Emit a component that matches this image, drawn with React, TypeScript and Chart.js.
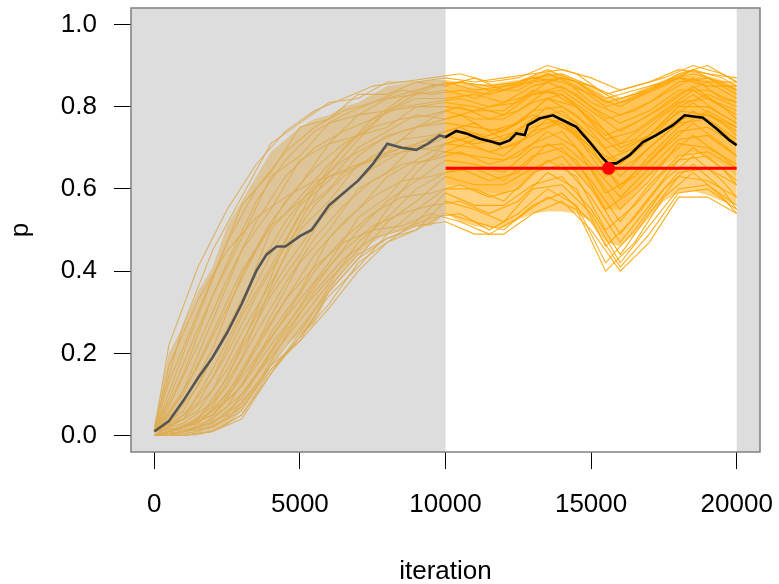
import { useEffect, useRef } from "react";
import { Chart, registerables } from "chart.js";

Chart.register(...registerables);

// ---------- data ----------
const xRange = [-800, 20800];
const yRange = [-0.04, 1.04];
const xTickValues = [0, 5000, 10000, 15000, 20000];
const xTickLabels = ["0", "5000", "10000", "15000", "20000"];
const yTickValues = [0, 0.2, 0.4, 0.6, 0.8, 1.0];
const yTickLabels = ["0.0", "0.2", "0.4", "0.6", "0.8", "1.0"];
const xTitle = "iteration";
const yTitle = "p";

// shaded (burn-in / margin) regions on the iteration axis
const shadeRegions = [
  [-800, 10000],
  [20000, 20800],
];

// reference level (red) and marker
const refLine = { x0: 10000, x1: 20000, p: 0.65 };
const markerIter = 15600;
const markerP = 0.65;

const iters500 = [
  0, 500, 1000, 1500, 2000, 2500, 3000, 3500, 4000, 4500, 5000, 5500, 6000, 6500, 7000, 7500,
  8000, 8500, 9000, 9500, 10000, 10500, 11000, 11500, 12000, 12500, 13000, 13500, 14000, 14500,
  15000, 15500, 16000, 16500, 17000, 17500, 18000, 18500, 19000, 19500, 20000,
];
const itersPost = [
  10000, 10500, 11000, 11500, 12000, 12500, 13000, 13500, 14000, 14500, 15000, 15500, 16000,
  16500, 17000, 17500, 18000, 18500, 19000, 19500, 20000,
];
const itersA = [
  0, 1000, 2000, 3000, 4000, 5000, 6000, 7000, 8000, 9000, 10000, 11000, 12000, 13000, 14000,
  15000, 16000, 17000, 18000, 19000, 20000,
];
const itersB = [
  0, 500, 1500, 2500, 3500, 4500, 5500, 6500, 7500, 8500, 9500, 10500, 11500, 12500, 13500,
  14500, 15500, 16500, 17500, 18500, 19500, 20000,
];

// highlighted chain (black)
const blackIters = [
  0, 500, 1000, 1500, 2000, 2500, 3000, 3500, 3850, 4200, 4500, 5000, 5400, 6000, 6500, 7000,
  7500, 8000, 8500, 9000, 9400, 9800, 10000, 10370, 10710, 11170, 11630, 11860, 12200, 12430,
  12720, 12830, 13230, 13690, 14030, 14490, 14950, 15410, 15580, 15870, 16320, 16780, 17240,
  17810, 18210, 18840, 19300, 19760, 20000,
];
const blackChain = [
  0.01, 0.035, 0.085, 0.14, 0.19, 0.25, 0.32, 0.4, 0.44, 0.46, 0.46, 0.485, 0.5, 0.56, 0.59, 0.62,
  0.66, 0.71, 0.7, 0.695, 0.71, 0.73, 0.726, 0.741, 0.735, 0.722, 0.714, 0.709, 0.718, 0.735,
  0.731, 0.755, 0.771, 0.779, 0.767, 0.751, 0.714, 0.674, 0.662, 0.662, 0.682, 0.714, 0.731,
  0.755, 0.779, 0.773, 0.747, 0.718, 0.706,
];

// extent of the chain cloud (upper / lower edges)
const cloudUpper = [
  0.03, 0.2, 0.27, 0.35, 0.41, 0.51, 0.57, 0.63, 0.69, 0.72, 0.75, 0.77, 0.78, 0.8, 0.81, 0.83,
  0.85, 0.855, 0.86, 0.865, 0.865, 0.86, 0.855, 0.855, 0.86, 0.865, 0.875, 0.885, 0.88, 0.865,
  0.85, 0.825, 0.82, 0.835, 0.85, 0.865, 0.88, 0.885, 0.875, 0.865, 0.855,
];
const cloudLower = [
  0.0, 0.0, 0.0, 0.0, 0.01, 0.025, 0.06, 0.11, 0.17, 0.22, 0.245, 0.27, 0.35, 0.4, 0.44, 0.47,
  0.49, 0.5, 0.51, 0.51, 0.54, 0.52, 0.51, 0.505, 0.505, 0.525, 0.54, 0.545, 0.545, 0.54, 0.52,
  0.47, 0.46, 0.49, 0.53, 0.57, 0.59, 0.595, 0.585, 0.57, 0.56,
];
// densest part of the cloud after iteration 10000
const coreUpper = [
  0.85, 0.85, 0.845, 0.845, 0.85, 0.855, 0.865, 0.875, 0.87, 0.855, 0.84, 0.815, 0.81, 0.825,
  0.84, 0.855, 0.87, 0.875, 0.865, 0.855, 0.845,
];
const coreLower = [
  0.61, 0.61, 0.6, 0.59, 0.59, 0.61, 0.64, 0.66, 0.66, 0.64, 0.6, 0.55, 0.55, 0.59, 0.63, 0.66,
  0.68, 0.69, 0.68, 0.66, 0.63,
];

// individual chains, sampled on grid A (every 1000 iterations)
const chainA01 = [0.02, 0.27, 0.45, 0.58, 0.71, 0.76, 0.81, 0.82, 0.86, 0.86, 0.87, 0.86, 0.87, 0.88, 0.89, 0.87, 0.84, 0.86, 0.89, 0.88, 0.87];
const chainA02 = [0.01, 0.2, 0.38, 0.56, 0.64, 0.75, 0.77, 0.83, 0.83, 0.86, 0.85, 0.87, 0.84, 0.87, 0.88, 0.85, 0.82, 0.84, 0.88, 0.9, 0.86];
const chainA03 = [0.01, 0.15, 0.34, 0.48, 0.63, 0.68, 0.76, 0.78, 0.82, 0.83, 0.84, 0.82, 0.85, 0.87, 0.86, 0.83, 0.8, 0.84, 0.87, 0.85, 0.85];
const chainA04 = [0.01, 0.11, 0.28, 0.45, 0.55, 0.67, 0.71, 0.78, 0.79, 0.82, 0.82, 0.83, 0.81, 0.85, 0.87, 0.81, 0.78, 0.81, 0.86, 0.87, 0.84];
const chainA05 = [0.01, 0.08, 0.21, 0.39, 0.52, 0.61, 0.71, 0.73, 0.79, 0.8, 0.8, 0.79, 0.81, 0.83, 0.85, 0.8, 0.76, 0.79, 0.84, 0.84, 0.81];
const chainA06 = [0.01, 0.06, 0.19, 0.32, 0.5, 0.58, 0.66, 0.73, 0.75, 0.8, 0.81, 0.8, 0.78, 0.83, 0.84, 0.79, 0.74, 0.78, 0.83, 0.86, 0.82];
const chainA07 = [0.01, 0.05, 0.14, 0.29, 0.41, 0.54, 0.6, 0.68, 0.73, 0.75, 0.79, 0.77, 0.77, 0.81, 0.83, 0.77, 0.71, 0.76, 0.81, 0.82, 0.79];
const chainA08 = [0.01, 0.04, 0.11, 0.25, 0.37, 0.5, 0.57, 0.66, 0.69, 0.75, 0.76, 0.75, 0.74, 0.79, 0.8, 0.75, 0.69, 0.73, 0.8, 0.8, 0.76];
const chainA09 = [0.01, 0.03, 0.08, 0.21, 0.34, 0.44, 0.56, 0.62, 0.69, 0.71, 0.74, 0.76, 0.72, 0.77, 0.79, 0.73, 0.66, 0.72, 0.77, 0.78, 0.74];
const chainA10 = [0.01, 0.02, 0.06, 0.15, 0.29, 0.42, 0.5, 0.6, 0.64, 0.71, 0.73, 0.71, 0.72, 0.75, 0.77, 0.71, 0.63, 0.7, 0.76, 0.77, 0.72];
const chainA11 = [0.01, 0.02, 0.05, 0.12, 0.25, 0.35, 0.48, 0.55, 0.63, 0.67, 0.71, 0.7, 0.68, 0.74, 0.76, 0.69, 0.61, 0.67, 0.74, 0.75, 0.71];
const chainA12 = [0.0, 0.02, 0.05, 0.14, 0.24, 0.33, 0.42, 0.53, 0.58, 0.66, 0.69, 0.68, 0.67, 0.71, 0.74, 0.66, 0.58, 0.65, 0.72, 0.73, 0.68];
const chainA13 = [0.0, 0.02, 0.05, 0.12, 0.22, 0.31, 0.41, 0.5, 0.57, 0.62, 0.67, 0.66, 0.64, 0.7, 0.71, 0.65, 0.55, 0.62, 0.71, 0.7, 0.66];
const chainA14 = [0.0, 0.01, 0.04, 0.1, 0.19, 0.28, 0.37, 0.47, 0.53, 0.6, 0.64, 0.65, 0.62, 0.68, 0.7, 0.62, 0.52, 0.61, 0.68, 0.69, 0.65];
const chainA15 = [0.0, 0.01, 0.03, 0.08, 0.17, 0.26, 0.35, 0.43, 0.52, 0.57, 0.63, 0.61, 0.61, 0.65, 0.68, 0.6, 0.49, 0.58, 0.67, 0.68, 0.62];
const chainA16 = [0.0, 0.01, 0.02, 0.07, 0.16, 0.24, 0.34, 0.41, 0.49, 0.55, 0.6, 0.6, 0.57, 0.64, 0.66, 0.58, 0.47, 0.56, 0.64, 0.65, 0.61];
const chainA17 = [0.0, 0.01, 0.02, 0.06, 0.17, 0.23, 0.31, 0.4, 0.47, 0.52, 0.59, 0.56, 0.56, 0.61, 0.63, 0.55, 0.44, 0.54, 0.63, 0.62, 0.58];
const chainA18 = [0.0, 0.0, 0.01, 0.05, 0.15, 0.24, 0.32, 0.42, 0.47, 0.5, 0.57, 0.55, 0.52, 0.6, 0.61, 0.54, 0.42, 0.51, 0.6, 0.61, 0.56];
const chainA19 = [0.0, 0.0, 0.01, 0.05, 0.16, 0.23, 0.35, 0.43, 0.48, 0.5, 0.54, 0.52, 0.5, 0.56, 0.59, 0.52, 0.41, 0.49, 0.59, 0.6, 0.55];
const chainA20 = [0.0, 0.0, 0.01, 0.04, 0.15, 0.25, 0.36, 0.44, 0.48, 0.51, 0.52, 0.49, 0.49, 0.54, 0.57, 0.5, 0.4, 0.47, 0.58, 0.58, 0.54];
const chainA21 = [0.01, 0.1, 0.25, 0.4, 0.51, 0.57, 0.63, 0.66, 0.68, 0.7, 0.69, 0.72, 0.74, 0.78, 0.76, 0.7, 0.66, 0.72, 0.79, 0.78, 0.75];
const chainA22 = [0.0, 0.02, 0.07, 0.19, 0.36, 0.52, 0.64, 0.72, 0.79, 0.83, 0.86, 0.84, 0.85, 0.86, 0.87, 0.85, 0.81, 0.84, 0.87, 0.86, 0.86];
const chainA23 = [0.0, 0.01, 0.03, 0.09, 0.2, 0.3, 0.38, 0.45, 0.55, 0.64, 0.71, 0.73, 0.7, 0.73, 0.77, 0.7, 0.6, 0.68, 0.75, 0.79, 0.75];
const chainA24 = [0.01, 0.04, 0.16, 0.3, 0.44, 0.56, 0.62, 0.7, 0.74, 0.78, 0.77, 0.79, 0.79, 0.84, 0.83, 0.78, 0.7, 0.73, 0.8, 0.83, 0.8];

// individual chains, sampled on grid B (offset by 500 iterations)
const chainB01 = [0.01, 0.22, 0.41, 0.55, 0.66, 0.74, 0.79, 0.82, 0.85, 0.86, 0.87, 0.88, 0.86, 0.87, 0.9, 0.88, 0.83, 0.85, 0.87, 0.9, 0.88, 0.86];
const chainB02 = [0.01, 0.13, 0.3, 0.47, 0.6, 0.69, 0.75, 0.79, 0.81, 0.84, 0.83, 0.84, 0.83, 0.85, 0.88, 0.85, 0.8, 0.82, 0.85, 0.89, 0.85, 0.83];
const chainB03 = [0.01, 0.07, 0.22, 0.38, 0.52, 0.63, 0.7, 0.74, 0.77, 0.8, 0.81, 0.82, 0.8, 0.81, 0.86, 0.83, 0.77, 0.79, 0.83, 0.87, 0.82, 0.81];
const chainB04 = [0.01, 0.05, 0.17, 0.31, 0.45, 0.57, 0.65, 0.71, 0.75, 0.77, 0.78, 0.8, 0.77, 0.79, 0.84, 0.8, 0.73, 0.76, 0.8, 0.85, 0.8, 0.78];
const chainB05 = [0.01, 0.03, 0.12, 0.26, 0.4, 0.52, 0.61, 0.67, 0.71, 0.74, 0.76, 0.78, 0.74, 0.76, 0.82, 0.78, 0.7, 0.72, 0.78, 0.83, 0.78, 0.76];
const chainB06 = [0.0, 0.02, 0.08, 0.2, 0.34, 0.46, 0.56, 0.63, 0.68, 0.72, 0.73, 0.75, 0.72, 0.74, 0.8, 0.76, 0.67, 0.7, 0.76, 0.81, 0.76, 0.73];
const chainB07 = [0.0, 0.02, 0.06, 0.16, 0.29, 0.41, 0.51, 0.59, 0.65, 0.69, 0.7, 0.72, 0.69, 0.71, 0.77, 0.73, 0.63, 0.67, 0.73, 0.79, 0.74, 0.71];
const chainB08 = [0.0, 0.01, 0.04, 0.12, 0.25, 0.37, 0.48, 0.56, 0.62, 0.66, 0.67, 0.69, 0.66, 0.68, 0.74, 0.7, 0.59, 0.63, 0.7, 0.76, 0.71, 0.68];
const chainB09 = [0.0, 0.01, 0.03, 0.09, 0.21, 0.33, 0.44, 0.52, 0.58, 0.62, 0.63, 0.65, 0.62, 0.64, 0.71, 0.67, 0.55, 0.6, 0.67, 0.73, 0.68, 0.65];
const chainB10 = [0.0, 0.01, 0.02, 0.07, 0.18, 0.29, 0.4, 0.48, 0.54, 0.58, 0.59, 0.61, 0.58, 0.6, 0.67, 0.63, 0.5, 0.56, 0.64, 0.7, 0.65, 0.61];
const chainB11 = [0.0, 0.0, 0.02, 0.05, 0.15, 0.26, 0.37, 0.45, 0.51, 0.54, 0.56, 0.57, 0.54, 0.57, 0.64, 0.6, 0.46, 0.53, 0.62, 0.68, 0.62, 0.58];
const chainB12 = [0.0, 0.0, 0.01, 0.04, 0.12, 0.24, 0.35, 0.43, 0.48, 0.5, 0.53, 0.54, 0.5, 0.54, 0.6, 0.56, 0.42, 0.5, 0.6, 0.66, 0.6, 0.55];
const chainB13 = [0.01, 0.17, 0.33, 0.45, 0.53, 0.58, 0.62, 0.64, 0.67, 0.7, 0.71, 0.74, 0.73, 0.76, 0.82, 0.8, 0.72, 0.74, 0.79, 0.84, 0.8, 0.77];
const chainB14 = [0.0, 0.01, 0.04, 0.14, 0.3, 0.47, 0.6, 0.7, 0.77, 0.82, 0.85, 0.86, 0.85, 0.86, 0.89, 0.86, 0.82, 0.84, 0.86, 0.89, 0.87, 0.85];
const chainB15 = [0.01, 0.09, 0.26, 0.42, 0.57, 0.67, 0.74, 0.78, 0.81, 0.83, 0.85, 0.86, 0.84, 0.84, 0.88, 0.86, 0.81, 0.83, 0.86, 0.88, 0.86, 0.84];
const chainB16 = [0.0, 0.01, 0.03, 0.1, 0.22, 0.33, 0.41, 0.47, 0.5, 0.51, 0.54, 0.52, 0.49, 0.53, 0.58, 0.55, 0.4, 0.47, 0.58, 0.64, 0.58, 0.54];

const chainsA = [
  chainA01, chainA02, chainA03, chainA04, chainA05, chainA06, chainA07, chainA08, chainA09, chainA10, chainA11, chainA12,
  chainA13, chainA14, chainA15, chainA16, chainA17, chainA18, chainA19, chainA20, chainA21, chainA22, chainA23, chainA24,
];
const chainsB = [
  chainB01, chainB02, chainB03, chainB04, chainB05, chainB06, chainB07, chainB08,
  chainB09, chainB10, chainB11, chainB12, chainB13, chainB14, chainB15, chainB16,
];

// ---------- styling ----------
const FONT = "'Liberation Sans', Arial, Helvetica, sans-serif";
const ORANGE_LINE = "rgba(255,165,0,0.9)";
const ORANGE_FILL = "rgba(255,165,0,0.5)";
const ORANGE_CORE = "rgba(255,165,0,0.32)";
const SHADE = "rgba(182,182,182,0.467)";

const pts = (xs: number[], ys: number[]) => xs.map((x, i) => ({ x, y: ys[i] }));

const shadePlugin = {
  id: "shadeRegions",
  afterDatasetsDraw(chart: any) {
    const { ctx, chartArea, scales } = chart;
    const xs = scales.x;
    ctx.save();
    ctx.fillStyle = SHADE;
    for (const [a, b] of shadeRegions) {
      const x0 = Math.max(chartArea.left, xs.getPixelForValue(a));
      const x1 = Math.min(chartArea.right, xs.getPixelForValue(b));
      ctx.fillRect(x0, chartArea.top, x1 - x0, chartArea.bottom - chartArea.top);
    }
    ctx.restore();
  },
};

const boxPlugin = {
  id: "plotBox",
  afterDraw(chart: any) {
    const { ctx, chartArea } = chart;
    ctx.save();
    ctx.strokeStyle = "#808080";
    ctx.lineWidth = 1.5;
    ctx.strokeRect(chartArea.left, chartArea.top, chartArea.right - chartArea.left, chartArea.bottom - chartArea.top);
    ctx.restore();
  },
};

const zeroPad = (axis: any) => {
  axis.paddingTop = 0;
  axis.paddingBottom = 0;
  axis.paddingLeft = 0;
  axis.paddingRight = 0;
};

export default function App() {
  const ref = useRef<HTMLCanvasElement | null>(null);

  useEffect(() => {
    if (!ref.current) return;

    const datasets: any[] = [];
    datasets.push({
      type: "scatter",
      data: [{ x: markerIter, y: markerP }],
      backgroundColor: "#ff0000",
      borderColor: "#ff0000",
      pointRadius: 6.5,
      borderWidth: 0,
    });
    datasets.push({
      data: pts([refLine.x0, refLine.x1], [refLine.p, refLine.p]),
      borderColor: "#ff0000",
      borderWidth: 3,
      pointRadius: 0,
      fill: false,
    });
    datasets.push({
      data: pts(blackIters, blackChain),
      borderColor: "#000000",
      borderWidth: 2.6,
      pointRadius: 0,
      fill: false,
    });
    for (const c of chainsA) {
      datasets.push({ data: pts(itersA, c), borderColor: ORANGE_LINE, borderWidth: 1.1, pointRadius: 0, fill: false });
    }
    for (const c of chainsB) {
      datasets.push({ data: pts(itersB, c), borderColor: ORANGE_LINE, borderWidth: 1.1, pointRadius: 0, fill: false });
    }
    datasets.push({
      data: pts(itersPost, coreUpper),
      borderColor: "rgba(0,0,0,0)",
      borderWidth: 0,
      pointRadius: 0,
      backgroundColor: ORANGE_CORE,
      fill: "+1",
    });
    datasets.push({
      data: pts(itersPost, coreLower),
      borderColor: "rgba(0,0,0,0)",
      borderWidth: 0,
      pointRadius: 0,
      fill: false,
    });
    datasets.push({
      data: pts(iters500, cloudUpper),
      borderColor: "rgba(0,0,0,0)",
      borderWidth: 0,
      pointRadius: 0,
      backgroundColor: ORANGE_FILL,
      fill: "+1",
    });
    datasets.push({
      data: pts(iters500, cloudLower),
      borderColor: "rgba(0,0,0,0)",
      borderWidth: 0,
      pointRadius: 0,
      fill: false,
    });

    const chart = new Chart(ref.current, {
      type: "line",
      data: { datasets },
      options: {
        animation: false,
        responsive: false,
        devicePixelRatio: 1,
        layout: { padding: { top: 8, right: 19, left: 0, bottom: 0 } },
        plugins: { legend: { display: false }, tooltip: { enabled: false } },
        elements: { line: { tension: 0 }, point: { radius: 0 } },
        scales: {
          x: {
            type: "linear",
            min: xRange[0],
            max: xRange[1],
            afterBuildTicks: (axis: any) => {
              axis.ticks = xTickValues.map((v) => ({ value: v }));
            },
            afterFit: (axis: any) => {
              axis.height = 132;
              zeroPad(axis);
            },
            grid: { drawOnChartArea: false, drawTicks: true, tickLength: 17, color: "#000", lineWidth: 1 },
            border: { display: false },
            ticks: {
              color: "#000",
              font: { family: FONT, size: 26 },
              padding: 20,
              maxRotation: 0,
              autoSkip: false,
              callback: (_v: any, i: number) => xTickLabels[i],
            },
            title: {
              display: true,
              text: xTitle,
              color: "#000",
              font: { family: FONT, size: 26 },
              padding: { top: 0, bottom: -3 },
            },
          },
          y: {
            type: "linear",
            min: yRange[0],
            max: yRange[1],
            afterBuildTicks: (axis: any) => {
              axis.ticks = yTickValues.map((v) => ({ value: v }));
            },
            afterFit: (axis: any) => {
              axis.width = 131;
              zeroPad(axis);
            },
            grid: { drawOnChartArea: false, drawTicks: true, tickLength: 17, color: "#000", lineWidth: 1 },
            border: { display: false },
            ticks: {
              color: "#000",
              font: { family: FONT, size: 26 },
              padding: 17,
              autoSkip: false,
              callback: (_v: any, i: number) => yTickLabels[i],
            },
            title: {
              display: true,
              text: yTitle,
              color: "#000",
              font: { family: FONT, size: 26 },
              padding: { top: 5, bottom: 0 },
            },
          },
        },
      },
      plugins: [shadePlugin, boxPlugin],
    } as any);

    return () => chart.destroy();
  }, []);

  return (
    <div style={{ position: "absolute", left: 0, top: 0, width: 779, height: 584, background: "#fff" }}>
      <canvas ref={ref} width={779} height={584} />
    </div>
  );
}
